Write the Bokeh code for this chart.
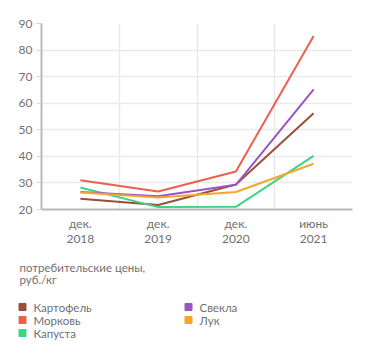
from bokeh.plotting import figure
from bokeh.models import Range1d, FixedTicker
from bokeh.layouts import column, row
from bokeh.core.properties import value
from bokeh.embed import file_html
from bokeh.resources import INLINE

periods = ["дек.\n2018", "дек.\n2019", "дек.\n2020", "июнь\n2021"]
potato = [24.0, 21.7, 29.4, 56.2]
carrot = [31.0, 26.8, 34.3, 85.3]
cabbage = [28.3, 20.9, 21.0, 40.2]
beet = [26.6, 25.0, 29.3, 65.2]
onion = [26.4, 24.5, 26.6, 37.2]
series_names = ["Картофель", "Морковь", "Капуста", "Свекла", "Лук"]
colors = ["#9c4e3b", "#ef5f4f", "#3fd47f", "#9b55c0", "#f7a52e"]
yticks = [20, 30, 40, 50, 60, 70, 80, 90]
caption_lines = ["потребительские цены,", "руб./кг"]

FONT = "Lato"
TXT = "#707070"
FS = "11.5px"

# ---- main chart ----
p = figure(width=371, height=250, output_backend="svg", toolbar_location=None,
           x_range=Range1d(0, len(periods)), y_range=Range1d(20, 90),
           min_border_left=41, min_border_right=19, min_border_top=23, min_border_bottom=41)
p.outline_line_color = None

xs = [i + 0.5 for i in range(len(periods))]
data = [potato, carrot, cabbage, beet, onion]
for vals, c in zip(data, colors):
    p.line(xs, vals, line_color=c, line_width=2)

p.yaxis.ticker = FixedTicker(ticks=yticks)
p.xaxis.ticker = FixedTicker(ticks=xs)
p.xaxis.major_label_overrides = {x: lab for x, lab in zip(xs, periods)}
p.xgrid.ticker = FixedTicker(ticks=[1, 2, 3, 4])
p.ygrid.ticker = FixedTicker(ticks=yticks)
for g in (p.xgrid, p.ygrid):
    g.grid_line_color = "#e9e9e9"
    g.grid_line_width = 1.5

for ax in (p.xaxis, p.yaxis):
    ax.axis_line_color = "#b8b8b8"
    ax.axis_line_width = 2
    ax.major_label_text_font = FONT
    ax.major_label_text_font_size = "12px"
    ax.major_label_text_color = TXT
    ax.minor_tick_line_color = None
p.yaxis.major_tick_line_color = "#d8d8d8"
p.yaxis.major_tick_in = 0
p.yaxis.major_tick_out = 5
p.yaxis.major_label_standoff = 4
p.xaxis.major_tick_line_color = None
p.xaxis.major_label_standoff = 0
p.xaxis.major_label_text_line_height = 1.0

# ---- caption + legend panel (canvas pixel coordinates, y down) ----
q = figure(width=371, height=105, output_backend="svg", toolbar_location=None,
           x_range=Range1d(0, 371), y_range=Range1d(105, 0),
           x_axis_location=None, y_axis_location=None,
           min_border_left=0, min_border_right=0, min_border_top=0, min_border_bottom=0)
q.grid.visible = False
q.outline_line_color = None

q.text(x=[19, 19], y=[16.7, 29.4], text=caption_lines, text_font=value(FONT),
       text_font_size=FS, text_color=TXT, text_baseline="middle", text_align="left")

col_x = [19, 19, 19, 185, 185]
row_y = [56.5, 69.5, 82.5, 56.5, 69.5]
q.scatter(x=[cx + 3 for cx in col_x], y=row_y, marker="square", size=7,
          fill_color=colors, line_color=colors)
q.text(x=[cx + 14 for cx in col_x], y=row_y, text=series_names, text_font=value(FONT),
       text_font_size=FS, text_color=TXT, text_baseline="middle", text_align="left")

layout = column(p, row(q), spacing=0)
open("out.html", "w").write(file_html(layout, INLINE))
